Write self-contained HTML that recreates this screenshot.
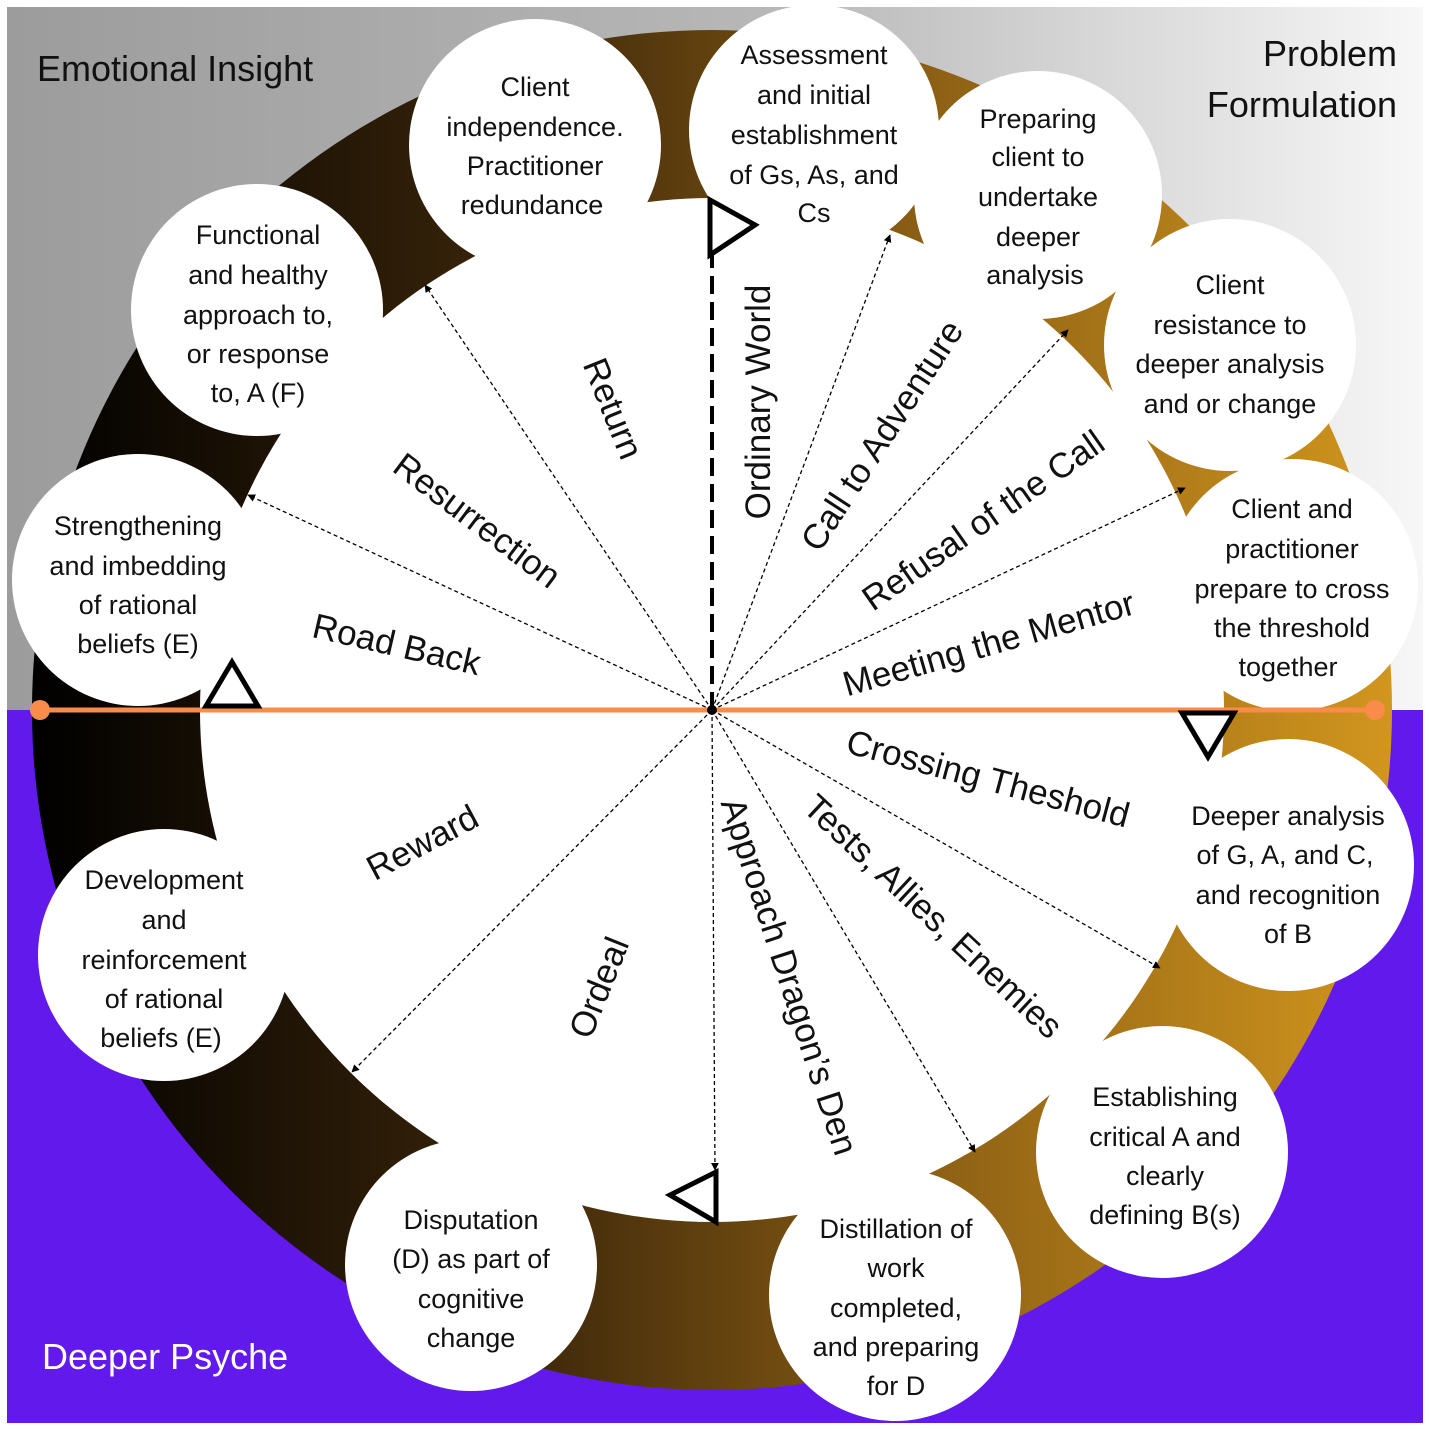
<!DOCTYPE html>
<html><head><meta charset="utf-8"><style>
html,body{margin:0;padding:0;background:#fff}
svg{display:block}
text{font-family:"Liberation Sans","DejaVu Sans",sans-serif}
</style></head><body>
<svg width="1429" height="1430" viewBox="0 0 1429 1430" xmlns="http://www.w3.org/2000/svg">
<defs>
<linearGradient id="bg" x1="0" y1="0" x2="1" y2="0">
<stop offset="0" stop-color="#9c9c9c"/><stop offset="0.55" stop-color="#b8b8b8"/><stop offset="1" stop-color="#f7f7f7"/>
</linearGradient>
<linearGradient id="ring" x1="0" y1="0" x2="1" y2="0">
<stop offset="0" stop-color="#000"/><stop offset="0.35" stop-color="#3a250a"/><stop offset="0.65" stop-color="#8a5e14"/><stop offset="1" stop-color="#d2961e"/>
</linearGradient>
<marker id="ar" viewBox="0 0 10 10" refX="9" refY="5" markerWidth="6" markerHeight="6" orient="auto"><path d="M0,0 L10,5 L0,10 z" fill="#000"/></marker>
</defs>
<rect x="7" y="7" width="1416" height="703" fill="url(#bg)"/>
<rect x="7" y="710" width="1416" height="713" fill="#6119ec"/>
<circle cx="712" cy="710" r="680" fill="url(#ring)"/>
<circle cx="712" cy="710" r="512" fill="#fff"/>
<g fill="#fff">
<circle cx="814" cy="130" r="125"/><circle cx="1038" cy="195" r="124"/><circle cx="1230" cy="345" r="126"/>
<circle cx="1292" cy="585" r="126"/><circle cx="1288" cy="865" r="126"/><circle cx="1162" cy="1152" r="126"/>
<circle cx="895" cy="1295" r="126"/><circle cx="471" cy="1265" r="126"/><circle cx="164" cy="955" r="126"/>
<circle cx="138" cy="580" r="126"/><circle cx="257" cy="310" r="126"/><circle cx="535" cy="145" r="126"/>
</g>
<g stroke="#000" stroke-width="1.3" stroke-dasharray="4,3" fill="none" marker-end="url(#ar)">
<line x1="712" y1="710" x2="425" y2="285"/><line x1="712" y1="710" x2="248" y2="495"/>
<line x1="712" y1="710" x2="352" y2="1072"/><line x1="712" y1="710" x2="715" y2="1170"/>
<line x1="712" y1="710" x2="975" y2="1152"/><line x1="712" y1="710" x2="1160" y2="968"/>
<line x1="712" y1="710" x2="1185" y2="488"/><line x1="712" y1="710" x2="1068" y2="330"/>
<line x1="712" y1="710" x2="890" y2="235"/>
</g>
<line x1="40" y1="710" x2="1375" y2="710" stroke="#f98c4a" stroke-width="5"/>
<circle cx="40" cy="710" r="10" fill="#f98c4a"/><circle cx="1375" cy="710" r="10" fill="#f98c4a"/>
<line x1="712" y1="710" x2="712" y2="205" stroke="#000" stroke-width="4" stroke-dasharray="18,8"/>
<circle cx="712" cy="710" r="5" fill="#000"/>
<g fill="#fff" stroke="#000" stroke-width="5">
<polygon points="710,200 710,255 755,225"/>
<polygon points="232,662 206,706 258,706"/>
<polygon points="1182,713 1234,713 1208,757"/>
<polygon points="716,1172 716,1222 670,1195"/>
</g>
<g font-size="27" fill="#111" text-anchor="middle">
<text x="814" y="64">Assessment</text><text x="814" y="104">and initial</text><text x="814" y="144">establishment</text><text x="814" y="184">of Gs, As, and</text><text x="814" y="222">Cs</text>
<text x="1038" y="128">Preparing</text><text x="1038" y="166">client to</text><text x="1038" y="206">undertake</text><text x="1038" y="246">deeper</text><text x="1035" y="284">analysis</text>
<text x="1230" y="294">Client</text><text x="1230" y="334">resistance to</text><text x="1230" y="373">deeper analysis</text><text x="1230" y="413">and or change</text>
<text x="1292" y="518">Client and</text><text x="1292" y="558">practitioner</text><text x="1292" y="598">prepare to cross</text><text x="1292" y="637">the threshold</text><text x="1288" y="676">together</text>
<text x="1288" y="825">Deeper analysis</text><text x="1285" y="864">of G, A, and C,</text><text x="1288" y="904">and recognition</text><text x="1288" y="943">of B</text>
<text x="1165" y="1106">Establishing</text><text x="1165" y="1146">critical A and</text><text x="1165" y="1185">clearly</text><text x="1165" y="1224">defining B(s)</text>
<text x="896" y="1238">Distillation of</text><text x="896" y="1277">work</text><text x="896" y="1317">completed,</text><text x="896" y="1356">and preparing</text><text x="896" y="1395">for D</text>
<text x="471" y="1229">Disputation</text><text x="471" y="1268">(D) as part of</text><text x="471" y="1308">cognitive</text><text x="471" y="1347">change</text>
<text x="164" y="889">Development</text><text x="164" y="929">and</text><text x="164" y="969">reinforcement</text><text x="164" y="1008">of rational</text><text x="161" y="1047">beliefs (E)</text>
<text x="138" y="535">Strengthening</text><text x="138" y="575">and imbedding</text><text x="138" y="614">of rational</text><text x="138" y="653">beliefs (E)</text>
<text x="258" y="244">Functional</text><text x="258" y="284">and healthy</text><text x="258" y="324">approach to,</text><text x="258" y="363">or response</text><text x="258" y="402">to, A (F)</text>
<text x="535" y="96">Client</text><text x="535" y="136">independence.</text><text x="535" y="175">Practitioner</text><text x="532" y="214">redundance</text>
</g>
<g font-size="35" fill="#111" text-anchor="middle">
<text transform="translate(770,402) rotate(-90)">Ordinary World</text>
<text transform="translate(892,442) rotate(-57)">Call to Adventure</text>
<text transform="translate(990,530) rotate(-35)">Refusal of the Call</text>
<text transform="translate(992,655) rotate(-16)">Meeting the Mentor</text>
<text transform="translate(985,790) rotate(15)">Crossing Theshold</text>
<text transform="translate(925,925) rotate(43)">Tests, Allies, Enemies</text>
<text transform="translate(778,980) rotate(72)">Approach Dragon’s Den</text>
<text transform="translate(610,992) rotate(-68)">Ordeal</text>
<text transform="translate(428,853) rotate(-28)">Reward</text>
<text transform="translate(394,656) rotate(13)">Road Back</text>
<text transform="translate(470,530) rotate(37)">Resurrection</text>
<text transform="translate(602,413) rotate(68)">Return</text>
</g>
<g font-size="36" fill="#111">
<text x="37" y="81">Emotional Insight</text>
<text x="1397" y="66" text-anchor="end">Problem</text>
<text x="1397" y="117" text-anchor="end">Formulation</text>
<text x="42" y="1369" fill="#fff">Deeper Psyche</text>
</g>
</svg>
</body></html>
